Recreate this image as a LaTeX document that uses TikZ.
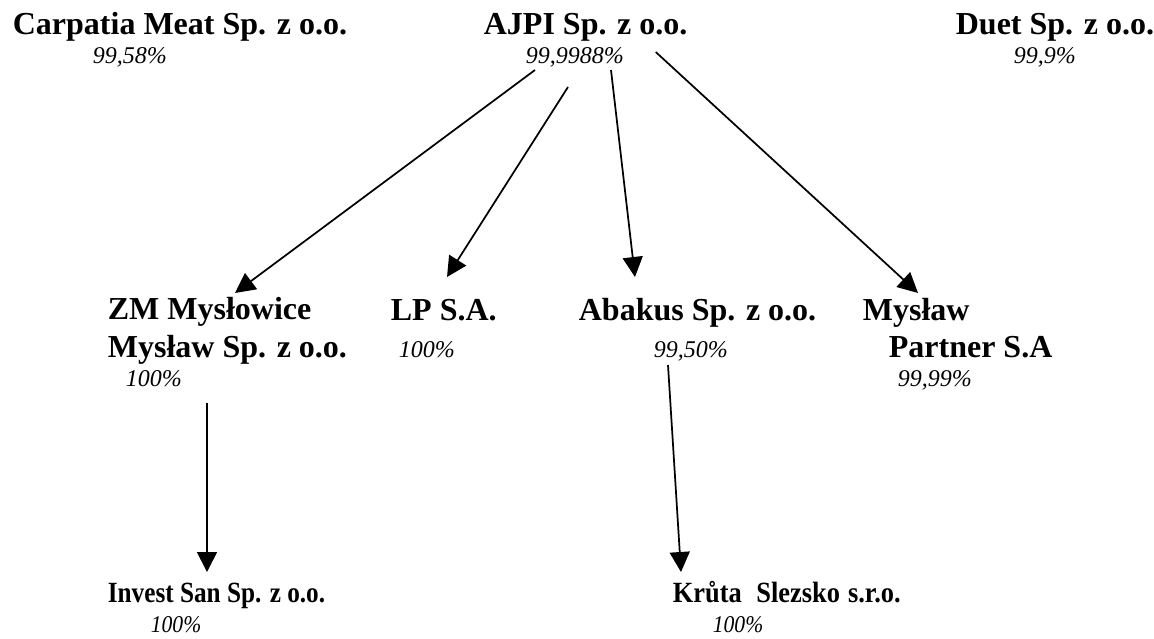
\documentclass[tikz,border=0pt]{standalone}
\usepackage{fontspec}
\setmainfont{Liberation Serif}
\usepackage{graphicx}
\usetikzlibrary{arrows.meta}
\usetikzlibrary{positioning}
\usetikzlibrary{calc}

\begin{document}
\begin{tikzpicture}[x=0.75pt,y=-0.75pt,->,>={Triangle[length=15pt,width=15pt]},
		line width=1.3pt]
		\tikzstyle{firm}=[inner sep=0pt,anchor=base west,font=\fontsize{24}{28}\selectfont\bfseries]
		\tikzstyle{share}=[inner sep=0pt,anchor=base west,font=\fontsize{18}{22}\selectfont\itshape]
		\tikzstyle{narrow}=[inner sep=0pt,anchor=base west,font=\fontsize{22}{26}\selectfont\bfseries]
		\useasboundingbox (0,0) rectangle (1154,639);
		
		% top row
		\node[firm]   (Carpatia)  at (12,35)    {Carpatia Meat Sp. z o.o.};
		\node[share]  (CarpatiaP) at (92,63)    {99,58\%};
		\node[firm]   (AJPI)      at (483,35)   {AJPI Sp. z o.o.};
		\node[share]  (AJPIP)     at (525,63)   {99,9988\%};
		\node[firm]   (Duet)      at (955,35)   {Duet Sp. z o.o.};
		\node[share]  (DuetP)     at (1013,63)  {99,9\%};
		
		% middle row
		\node[firm]   (ZM)        at (107,319)  {ZM Mysłowice};
		\node[firm]   (ZMb)       at (107,357)  {Mysław Sp. z o.o.};
		\node[share]  (ZMP)       at (125,386)  {100\%};
		\node[firm]   (LP)        at (390,320)  {LP S.A.};
		\node[share]  (LPP)       at (398,357)  {100\%};
		\node[firm]   (Abakus)    at (578,320)  {Abakus Sp. z o.o.};
		\node[share]  (AbakusP)   at (653,357)  {99,50\%};
		\node[firm]   (Myslaw)    at (862,320)  {Mysław};
		\node[firm]   (Partner)   at (888,357)  {Partner S.A};
		\node[share]  (PartnerP)  at (897,386)  {99,99\%};
		
		% bottom row
		\node[narrow] (Invest)    at (107,602)  {\scalebox{0.86}[1]{Invest San Sp. z o.o.}};
		\node[share]  (InvestP)   at (150,632)  {\scalebox{0.9}[1]{100\%}};
		\node[narrow] (Kruta)     at (672,602)  {\scalebox{0.9}[1]{Krůta}\hspace{11pt}\scalebox{0.9}[1]{Slezsko}\hspace{6pt}\scalebox{0.9}[1]{s.r.o.}};
		\node[share]  (KrutaP)    at (712,632)  {\scalebox{0.9}[1]{100\%}};
		
		\draw ($(AJPIP.base west)+(10,7)$)     -- ($(ZM.base west)+(128,-26)$);
		\draw ($(AJPIP.base west)+(43,24)$)    -- ($(LP.base west)+(57,-43)$);
		\draw ($(AJPIP.base west)+(86,7)$)     -- ($(Abakus.base west)+(57,-43)$);
		\draw ($(AJPIP.base east)+(31,-11)$)   -- ($(Myslaw.base west)+(56,-27)$);
		\draw ($(ZMP.base west)+(82,17)$)      -- ($(Invest.base west)+(100,-30)$);
		\draw ($(AbakusP.base west)+(15,8)$)   -- ($(Kruta.base west)+(9,-30)$);
\end{tikzpicture}
\end{document}
